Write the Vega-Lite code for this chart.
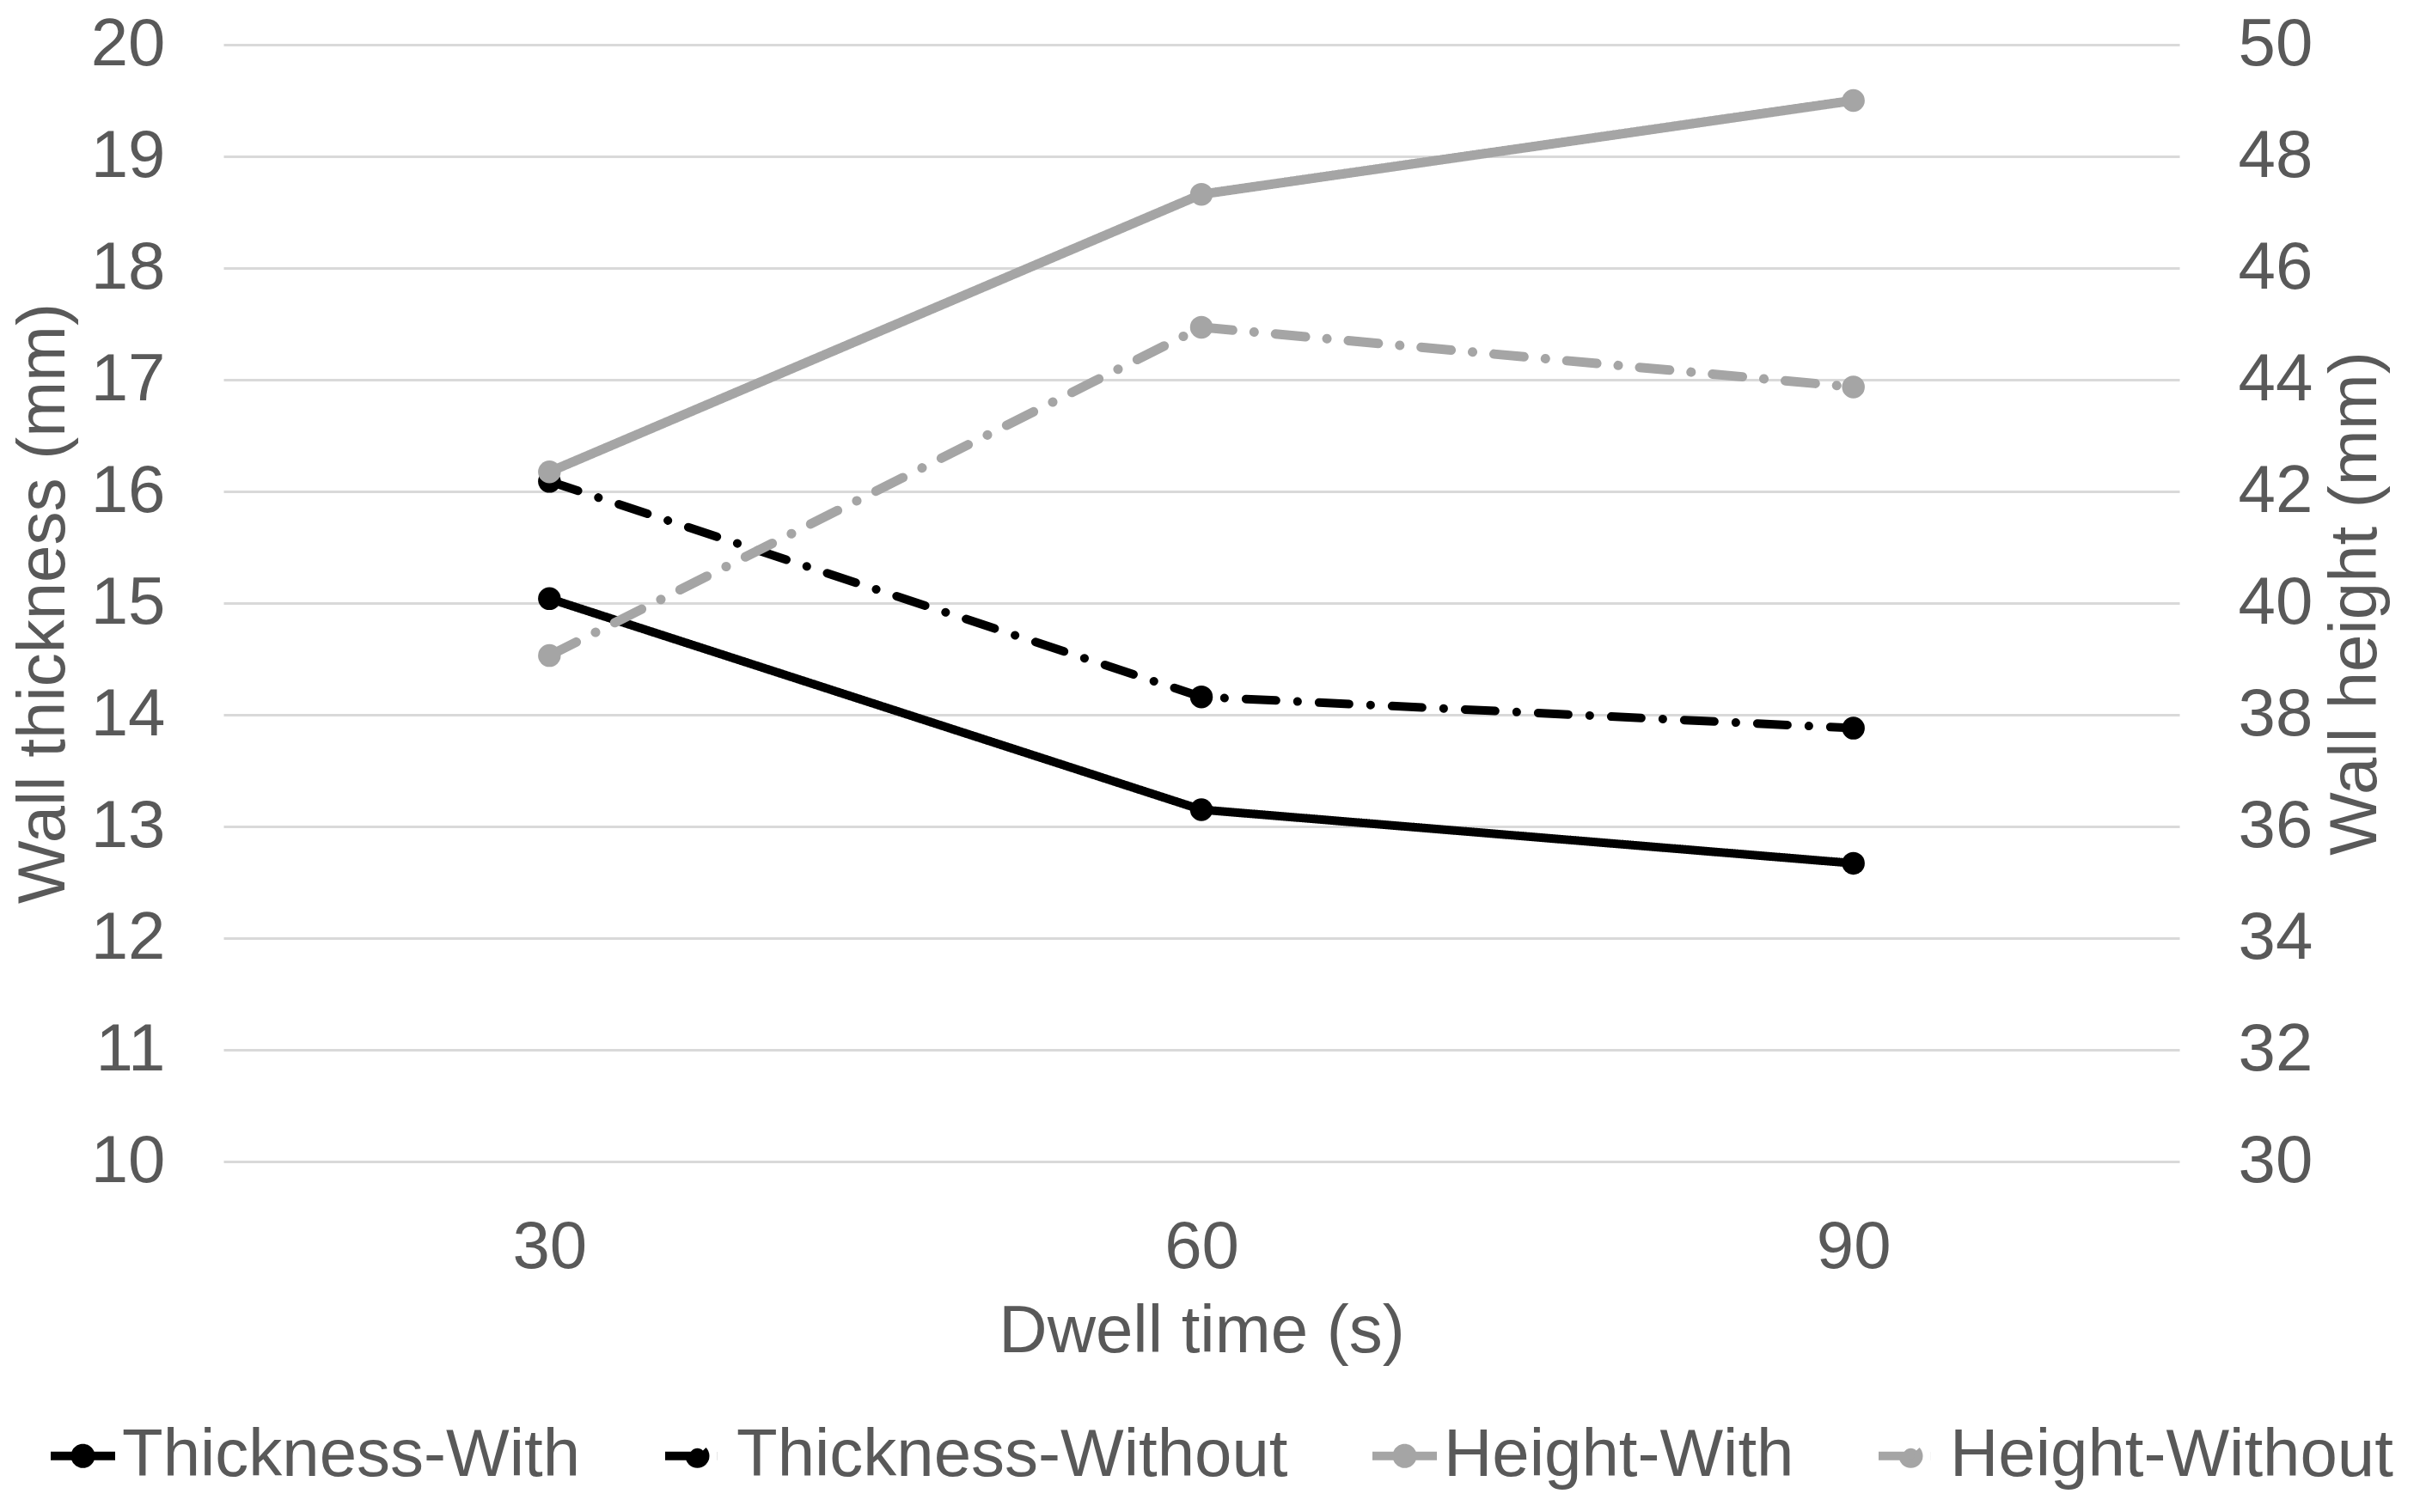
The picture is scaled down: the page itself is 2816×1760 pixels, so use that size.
{
  "$schema": "https://vega.github.io/schema/vega-lite/v6.json",
  "width": 2276,
  "height": 1300,
  "autosize": "none",
  "padding": {"left": 260, "top": 52, "right": 280, "bottom": 408},
  "background": "white",
  "config": {
    "font": "Liberation Sans",
    "view": {"stroke": null},
    "axis": {
      "labelFont": "Liberation Sans",
      "titleFont": "Liberation Sans",
      "labelFontSize": 78,
      "titleFontSize": 78,
      "labelColor": "#595959",
      "titleColor": "#595959",
      "titleFontWeight": "normal",
      "domain": false,
      "ticks": false,
      "tickSize": 0,
      "gridColor": "#D9D9D9",
      "gridWidth": 3
    }
  },
  "data": {
    "values": [
      {"dwell": "30", "series": "Thickness-With", "axis": "thickness", "value": 15.04},
      {"dwell": "60", "series": "Thickness-With", "axis": "thickness", "value": 13.15},
      {"dwell": "90", "series": "Thickness-With", "axis": "thickness", "value": 12.67},
      {"dwell": "30", "series": "Thickness-Without", "axis": "thickness", "value": 16.09},
      {"dwell": "60", "series": "Thickness-Without", "axis": "thickness", "value": 14.16},
      {"dwell": "90", "series": "Thickness-Without", "axis": "thickness", "value": 13.88},
      {"dwell": "30", "series": "Height-With", "axis": "height", "value": 42.35},
      {"dwell": "60", "series": "Height-With", "axis": "height", "value": 47.32},
      {"dwell": "90", "series": "Height-With", "axis": "height", "value": 49.0},
      {"dwell": "30", "series": "Height-Without", "axis": "height", "value": 39.06},
      {"dwell": "60", "series": "Height-Without", "axis": "height", "value": 44.94},
      {"dwell": "90", "series": "Height-Without", "axis": "height", "value": 43.87}
    ]
  },
  "encoding": {
    "x": {
      "field": "dwell",
      "type": "ordinal",
      "sort": ["30", "60", "90"],
      "scale": {"type": "point", "padding": 0.5},
      "axis": {"title": "Dwell time (s)", "labelAngle": 0, "labelPadding": 61, "titlePadding": 20, "grid": false}
    },
    "color": {
      "field": "series",
      "type": "nominal",
      "scale": {
        "domain": ["Thickness-With", "Thickness-Without", "Height-With", "Height-Without"],
        "range": ["#000000", "#000000", "#A5A5A5", "#A5A5A5"]
      },
      "legend": {
        "title": null,
        "orient": "none",
        "direction": "horizontal",
        "legendX": -206,
        "legendY": 1600,
        "labelFont": "Liberation Sans",
        "labelFontSize": 78,
        "labelColor": "#595959",
        "labelLimit": 0,
        "labelOffset": 3,
        "columnPadding": 78,
        "symbolSize": 5625,
        "symbolStrokeWidth": 10,
        "symbolType": "M-1,0H1M-0.24,0A0.24,0.24 0 1,0 0.24,0A0.24,0.24 0 1,0 -0.24,0",
        "encode": {
          "symbols": {"update": {"fill": {"scale": "color", "field": "value"}}}
        }
      }
    },
    "strokeDash": {
      "field": "series",
      "type": "nominal",
      "scale": {
        "domain": ["Thickness-With", "Thickness-Without", "Height-With", "Height-Without"],
        "range": [[1, 0], [35, 25, 0.1, 25], [1, 0], [35, 25, 0.1, 25]]
      },
      "legend": {"title": null}
    }
  },
  "layer": [
    {
      "transform": [{"filter": "datum.axis === 'thickness'"}],
      "mark": {"type": "line", "strokeWidth": 10, "strokeCap": "round", "point": {"filled": true, "size": 700}},
      "encoding": {
        "y": {
          "field": "value",
          "type": "quantitative",
          "scale": {"domain": [10, 20], "nice": false, "zero": false},
          "axis": {"title": "Wall thickness (mm)", "values": [10, 11, 12, 13, 14, 15, 16, 17, 18, 19, 20], "labelPadding": 68, "titlePadding": 15, "grid": true}
        }
      }
    },
    {
      "transform": [{"filter": "datum.axis === 'height'"}],
      "mark": {"type": "line", "strokeWidth": 11, "strokeCap": "round", "point": {"filled": true, "size": 700}},
      "encoding": {
        "y": {
          "field": "value",
          "type": "quantitative",
          "scale": {"domain": [30, 50], "nice": false, "zero": false},
          "axis": {"title": "Wall height (mm)", "orient": "right", "titleAngle": 270, "titleBaseline": "top", "values": [30, 32, 34, 36, 38, 40, 42, 44, 46, 48, 50], "labelPadding": 68, "titlePadding": 12, "grid": false}
        }
      }
    }
  ],
  "resolve": {"scale": {"y": "independent"}}
}
